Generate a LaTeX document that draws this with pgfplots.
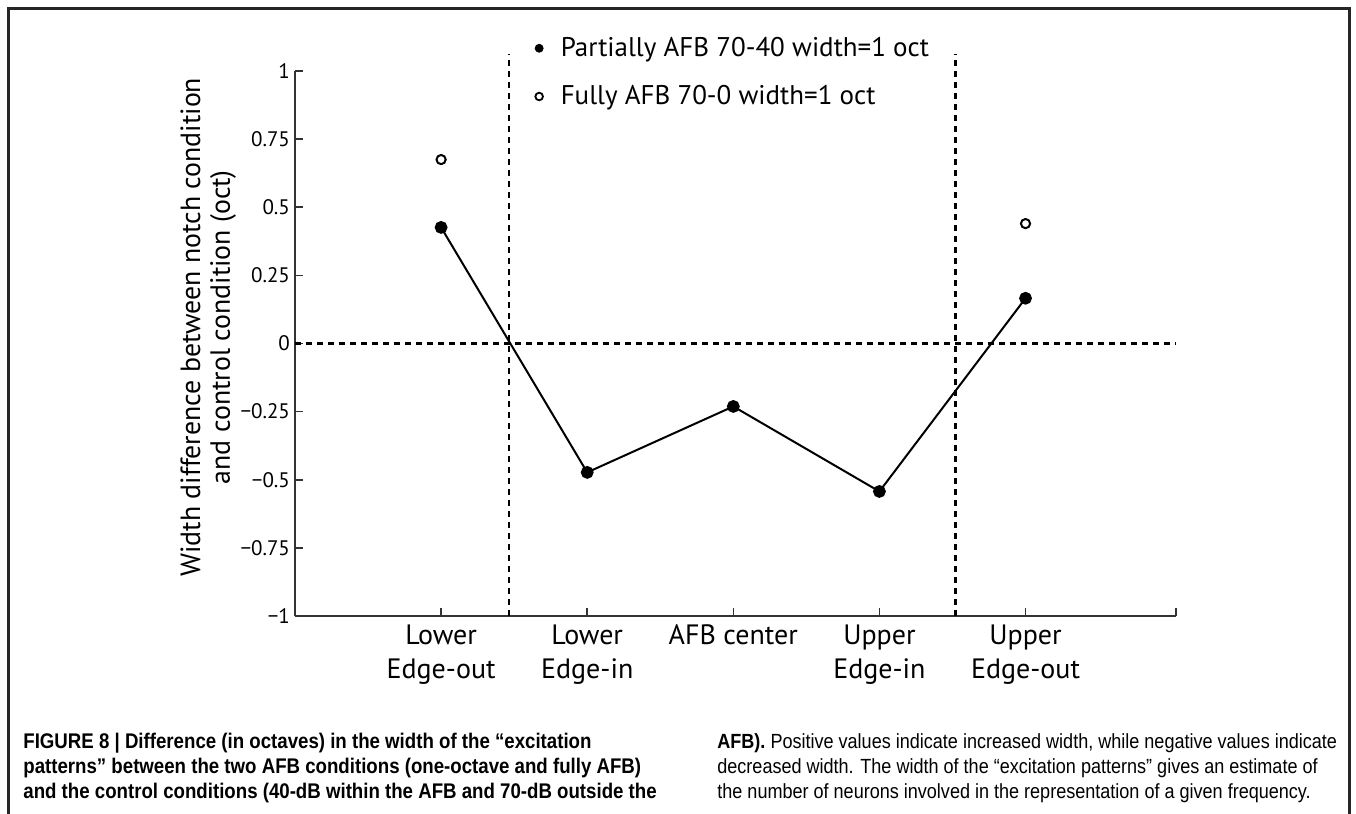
\documentclass[border=0pt]{standalone}
\usepackage{fontspec}
\setmainfont{PT Sans}
\newfontfamily\capfont[FakeStretch=0.88]{Liberation Sans}
\usepackage{pgfplots}
\pgfplotsset{compat=1.18}
\begin{document}
\begin{tikzpicture}
\useasboundingbox (0,0) rectangle (678pt,407pt);
\fill[white] (0,0) rectangle (678pt,407pt);
\draw[line width=1.5pt,black!85] (4pt,-5pt) -- (4pt,402.5pt) -- (674.5pt,402.5pt) -- (674.5pt,-5pt);
\begin{axis}[
  at={(147.5pt,99pt)}, anchor=south west,
  scale only axis, width=440.5pt, height=272.5pt,
  xmin=0, xmax=6.03, ymin=-1, ymax=1,
  axis x line=bottom, axis y line=left,
  axis line style={-, line width=0.9pt, black!80},
  xtick={1,2,3,4,5},
  xticklabels={{Lower\\Edge-out},{Lower\\Edge-in},{AFB center},{Upper\\Edge-in},{Upper\\Edge-out}},
  extra x ticks={6.03}, extra x tick labels={},
  ytick={-1,-0.75,-0.5,-0.25,0,0.25,0.5,0.75,1},
  yticklabels={−1,−0.75,−0.5,−0.25,0,0.25,0.5,0.75,1},
  tick align=inside, major tick length=4pt,
  tick style={line width=0.8pt, black!80},
  yticklabel style={font=\fontsize{10.5}{12}\selectfont, xshift=1pt},
  xticklabel style={font=\fontsize{14}{17}\selectfont, align=center, anchor=north, yshift=-1pt},
  ylabel={Width difference between notch condition\\and control condition (oct)},
  ylabel style={at={(axis description cs:-0.0985,0.530)}, anchor=center, align=center, font=\fontsize{13.9}{14.8}\selectfont},
  clip=false,
  legend style={draw=none, fill=none, at={(axis cs:1.60,1.155)}, anchor=north west, font=\fontsize{13.5}{16}\selectfont, row sep=9pt, /tikz/every odd column/.append style={column sep=6.8pt}},
  legend cell align=left,
  legend image code/.code={\draw[#1] plot coordinates {(0pt,0pt)};},
]
\addlegendimage{only marks, mark=*, black, mark size=2pt}
\addlegendentry{Partially AFB 70-40 width=1 oct}
\addlegendimage{only marks, mark=o, black, mark size=1.9pt, mark options={line width=0.9pt}}
\addlegendentry{Fully AFB 70-0 width=1 oct}
\addplot[black, line width=1.2pt, dash pattern=on 3pt off 2.5pt, forget plot] coordinates {(0,0) (6.03,0)};
\addplot[black, line width=1.2pt, dash pattern=on 3pt off 2.5pt, forget plot] coordinates {(1.466,-1) (1.466,1.064)};
\addplot[black, line width=1.2pt, dash pattern=on 3pt off 2.5pt, forget plot] coordinates {(4.52,-1) (4.52,1.064)};
\addplot[black, line width=1pt, mark=*, mark size=2.7pt, forget plot] coordinates {(1,0.426) (2,-0.473) (3,-0.231) (4,-0.543) (5,0.166)};
\addplot[black, only marks, mark=o, mark size=2.3pt, mark options={line width=1pt}, forget plot] coordinates {(1,0.675) (5,0.44)};
\end{axis}
\begin{scope}[every node/.style={anchor=base west, inner sep=0pt}]
\node[font=\capfont\bfseries\fontsize{10.6}{12}\selectfont] at (11.5pt,32.5pt) {FIGURE 8 | Difference (in octaves) in the width of the “excitation};
\node[font=\capfont\bfseries\fontsize{10.6}{12}\selectfont] at (11.5pt,20pt) {patterns” between the two AFB conditions (one-octave and fully AFB)};
\node[font=\capfont\bfseries\fontsize{10.6}{12}\selectfont] at (11.5pt,7.8pt) {and the control conditions (40-dB within the AFB and 70-dB outside the};
\node[font=\capfont\fontsize{10.25}{12}\selectfont] at (358.5pt,32.5pt) {\textbf{AFB).} Positive values indicate increased width, while negative values indicate};
\node[font=\capfont\fontsize{10.25}{12}\selectfont] at (358.5pt,20pt) {decreased width. The width of the “excitation patterns” gives an estimate of};
\node[font=\capfont\fontsize{10.25}{12}\selectfont] at (358.5pt,7.8pt) {the number of neurons involved in the representation of a given frequency.};
\end{scope}
\end{tikzpicture}
\end{document}
